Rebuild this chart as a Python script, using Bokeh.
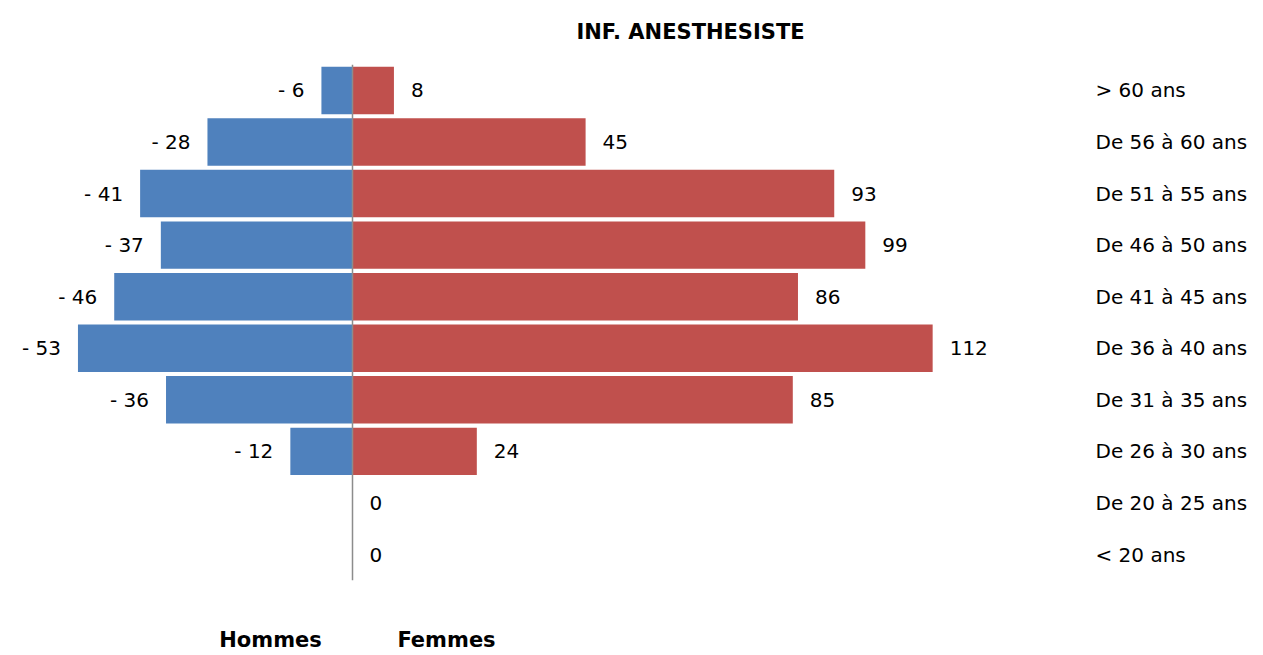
from bokeh.plotting import figure
from bokeh.models import ColumnDataSource, Range1d
from bokeh.core.properties import value
from bokeh.embed import file_html
from bokeh.resources import INLINE

# ---------------- data ----------------
categories = ["< 20 ans", "De 20 à 25 ans", "De 26 à 30 ans", "De 31 à 35 ans",
              "De 36 à 40 ans", "De 41 à 45 ans", "De 46 à 50 ans", "De 51 à 55 ans",
              "De 56 à 60 ans", "> 60 ans"]
hommes = [0, 0, -12, -36, -53, -46, -37, -41, -28, -6]
femmes = [0, 0, 24, 85, 112, 86, 99, 93, 45, 8]
title_text = "INF. ANESTHESISTE"
series_names = ["Hommes", "Femmes"]

# ---------------- layout ----------------
W, H = 1263, 655
PX_X = 5.18          # px per unit on x
PX_Y = 51.56         # px per category row
CENTER_PX = 352      # x of the axis line from the left of the frame
ROW0_PX = 554        # y of the bottom category centre from the top of the frame

x0 = -CENTER_PX / PX_X
x1 = x0 + W / PX_X
y1 = ROW0_PX / PX_Y
y0 = y1 - H / PX_Y


def dx(px):
    return (px - CENTER_PX) / PX_X


def dy(px):
    return (ROW0_PX - px) / PX_Y


FONT = "DejaVu Sans"
BLUE = "#4F81BD"
RED = "#C0504D"

ys = list(range(len(categories)))

p = figure(width=W, height=H, x_range=Range1d(x0, x1), y_range=Range1d(y0, y1),
           output_backend="svg", toolbar_location=None, min_border=0)
p.axis.visible = False
p.grid.visible = False
p.outline_line_color = None
p.background_fill_color = "white"
p.border_fill_color = "white"

src = ColumnDataSource(dict(
    y=ys, h=hommes, f=femmes, cat=categories,
    hl=[("- %d" % abs(v)) if v != 0 else "" for v in hommes],
    fl=[str(v) for v in femmes],
))

p.hbar(y="y", left=0, right="h", height=0.92, source=src, fill_color=BLUE, line_color=None)
p.hbar(y="y", left=0, right="f", height=0.92, source=src, fill_color=RED, line_color=None)

# central axis line
p.segment(x0=[0], y0=[-0.5], x1=[0], y1=[len(categories) - 0.5], line_color="#8C8C8C", line_width=1.5)

# data labels
p.text(x="h", y="y", text="hl", source=src, text_align="right", text_baseline="middle",
       x_offset=-17, text_font=value(FONT), text_font_size="20px", text_color="#000000")
p.text(x="f", y="y", text="fl", source=src, text_align="left", text_baseline="middle",
       x_offset=17, text_font=value(FONT), text_font_size="20px", text_color="#000000")

# category labels on the right
p.text(x=[dx(1095)] * len(categories), y=ys, text=categories, text_align="left",
       text_baseline="middle", text_font=value(FONT), text_font_size="20px", text_color="#000000")

# title
p.text(x=[dx(690)], y=[dy(31)], text=[title_text],
       text_align="center", text_baseline="middle", text_font=value(FONT),
       text_font_size="21px", text_font_style="bold", text_color="#000000")

# legend-like labels at the bottom
leg_y = dy(639)
p.text(x=[dx(270), dx(446)], y=[leg_y, leg_y],
       text=series_names, text_align="center", text_baseline="middle", text_font=value(FONT),
       text_font_size="21px", text_font_style="bold", text_color="#000000")

open("out.html", "w").write(file_html(p, INLINE))
